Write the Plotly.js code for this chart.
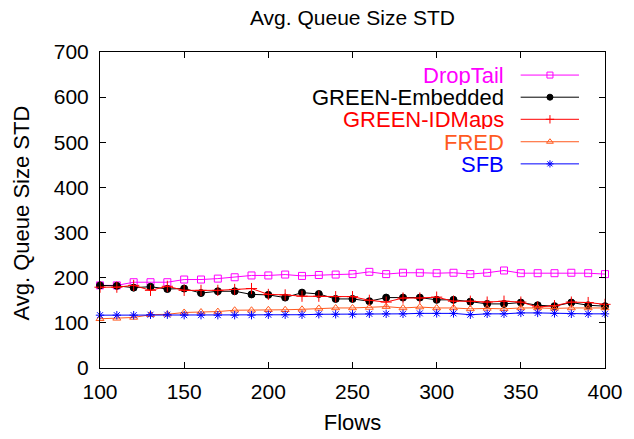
<!DOCTYPE html>
<html>
<head>
<meta charset="utf-8">
<script src="https://cdn.plot.ly/plotly-3.0.1.min.js"></script>
<style>html,body{margin:0;padding:0;background:#fff;}#chart{width:634px;height:439px;}</style>
</head>
<body>
<div id="chart"></div>
<script>
const flows = [100,110,120,130,140,150,160,170,180,190,200,210,220,230,240,250,260,270,280,290,300,310,320,330,340,350,360,370,380,390,400];
const dropTail = [183,183,190,190,190,196,196,198,201,205,205,207,204,206,207,208,213,208,211,211,210,211,208,211,216,210,210,210,211,210,208];
const greenEmbedded = [183,182,178,180,175,176,166,170,170,163,162,156,167,164,153,153,148,156,156,156,151,151,147,142,142,145,139,137,145,139,137];
const greenIDMaps = [179,179,183,172,181,172,172,172,174,176,163,162,159,159,158,158,150,146,155,155,157,148,148,146,148,146,135,138,146,145,141];
const fred = [109,110,112,118,119,123,124,125,128,128,129,129,130,132,133,133,134,136,133,135,133,133,131,132,131,133,133,132,133,133,133];
const sfb = [117,117,117,118,118,117,117,117,117,117,118,118,118,119,119,119,120,120,120,121,121,121,118,120,120,122,122,121,120,120,120];

const seriesNames = ['DropTail','GREEN-Embedded','GREEN-IDMaps','FRED','SFB'];
const seriesData = [dropTail, greenEmbedded, greenIDMaps, fred, sfb];
const colors = ['#ff00ff','#000000','#ff0000','#ff5a1f','#0000ff'];
const symbols = ['square-open','circle','cross-thin-open','triangle-up-open','asterisk-open'];
const sizes = [7,7,8,7,7];

const font = 'Liberation Sans, Arial, sans-serif';
const traces = [];
seriesData.forEach((ys, i) => {
  traces.push({
    x: flows, y: ys, type: 'scatter', mode: 'lines+markers', name: seriesNames[i],
    line: {color: colors[i], width: 1},
    marker: {symbol: symbols[i], size: sizes[i], color: colors[i], line: {color: colors[i], width: 1}},
    showlegend: false, cliponaxis: false
  });
});

// custom key (gnuplot style: text right, sample on right)
const keyY = [0.927, 0.857, 0.787, 0.716, 0.646];
const keyX0 = 0.833, keyX1 = 0.9485, keyXm = 0.891, keyText = 0.802;
const annotations = [];
seriesNames.forEach((n, i) => {
  traces.push({x: [keyX0, keyX1], y: [keyY[i], keyY[i]], xaxis: 'x2', yaxis: 'y2', type: 'scatter', mode: 'lines',
    line: {color: colors[i], width: 1}, showlegend: false, hoverinfo: 'skip'});
  traces.push({x: [keyXm], y: [keyY[i]], xaxis: 'x2', yaxis: 'y2', type: 'scatter', mode: 'markers',
    marker: {symbol: symbols[i], size: 6, color: colors[i], line: {color: colors[i], width: 1}}, showlegend: false, hoverinfo: 'skip'});
  annotations.push({xref: 'paper', yref: 'paper', x: keyText, y: keyY[i], xanchor: 'right', yanchor: 'middle',
    height: 20, valign: 'middle', borderpad: 0,
    text: n, showarrow: false, font: {family: font, size: 22, color: colors[i]}});
});
// y-axis title placed as rotated text
annotations.push({xref: 'paper', yref: 'paper', x: -0.1545, y: 0.492, xanchor: 'center', yanchor: 'middle',
  textangle: -90, text: 'Avg. Queue Size STD', showarrow: false, borderpad: 0, font: {family: font, size: 22, color: '#000'}});

const layout = {
  width: 634, height: 439,
  margin: {l: 100, r: 29, t: 52, b: 71},
  paper_bgcolor: '#fff', plot_bgcolor: '#fff',
  font: {family: font, size: 21, color: '#000'},
  title: {text: 'Avg. Queue Size STD', font: {family: font, size: 21, color: '#000'}, x: 0.5, xanchor: 'center', y: 0.959, yanchor: 'middle', xref: 'paper'},
  showlegend: false,
  xaxis: {range: [100, 400], tickvals: [100,150,200,250,300,350,400], ticks: 'inside', ticklen: 6, tickwidth: 1, tickcolor: '#000',
    showline: true, linecolor: '#000', linewidth: 1, mirror: 'ticks', showgrid: false, zeroline: false,
    ticklabelstandoff: 5,
    title: {text: 'Flows', font: {family: font, size: 22}, standoff: 12}, tickfont: {family: font, size: 21}},
  yaxis: {range: [0, 700], tickvals: [0,100,200,300,400,500,600,700], ticks: 'inside', ticklen: 6, tickwidth: 1, tickcolor: '#000',
    showline: true, linecolor: '#000', linewidth: 1, mirror: 'ticks', showgrid: false, zeroline: false,
    ticklabelstandoff: 6, tickfont: {family: font, size: 21}},
  xaxis2: {overlaying: 'x', range: [0, 1], visible: false, fixedrange: true},
  yaxis2: {overlaying: 'y', range: [0, 1], visible: false, fixedrange: true},
  annotations: annotations
};

Plotly.newPlot('chart', traces, layout, {displayModeBar: false, staticPlot: true});
</script>
</body>
</html>
